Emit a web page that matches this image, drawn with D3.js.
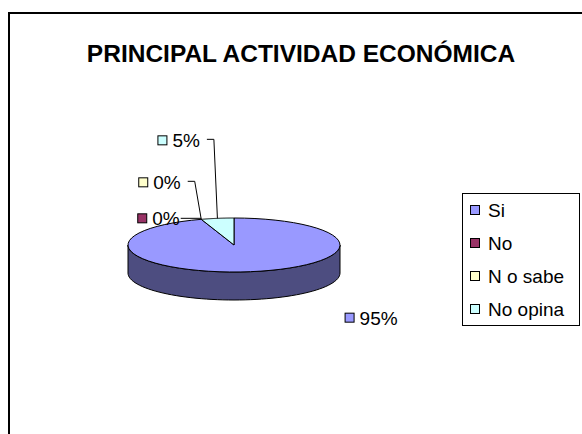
<!DOCTYPE html>
<head>
  <meta charset="utf-8">
  <script src="https://d3js.org/d3.v7.min.js"></script>
  <style>
body { margin:0; background:#fff; }
text { font-family: Arial, "Liberation Sans", sans-serif; fill:#000; }
.title { font-size: 24.5px; font-weight: bold; }
.lbl { font-size: 19px; }
.leg { font-size: 19px; }
.edge { stroke:#000; stroke-width:1; }
  </style>
</head>
<body>
<script>
const categories = ['Si', 'No', 'N o sabe', 'No opina']
const values = [95, 0, 0, 5]
const colors = ['#9999ff', '#993366', '#ffffcc', '#ccffff']
const sideColors = ['#4d4d80', '#4d1a33', '#808066', '#668080']

// where each data label's key box sits relative to its rim point (layout only)
const labelOffsets = [[94, 46], [-64, -1], [-63, -37], [-60, -78]]

const W = 582, H = 434
const svg = d3.select('body').append('svg').attr('width', W).attr('height', H)

// chart frame (only top/left edges fall inside the picture)
svg.append('path').attr('d', `M9,${H}V13H${W}`)
  .attr('fill', 'none').attr('stroke', '#000').attr('stroke-width', 2)

svg.append('text').attr('class', 'title')
  .attr('x', 301).attr('y', 62).attr('text-anchor', 'middle')
  .text('PRINCIPAL ACTIVIDAD ECONÓMICA')

const cx = 234, cy = 245, rx = 106, ry = 27, depth = 28

const pie = d3.pie().sort(null).value(d => d)
const arcs = pie(values)
const pct = d3.format('.0%')
const total = d3.sum(values)

const pt = (a, dy = 0) => [cx + rx * Math.sin(a), cy - ry * Math.cos(a) + dy]

function rimPath(a0, a1, dy = 0, n = 60) {
  const pts = d3.range(n + 1).map(i => pt(a0 + (a1 - a0) * i / n, dy))
  return pts.map((p, i) => (i ? 'L' : 'M') + p[0].toFixed(2) + ',' + p[1].toFixed(2)).join('')
}

const g = svg.append('g')

// side walls, front half only (angles PI/2 .. 3PI/2)
arcs.forEach((d, i) => {
  const a0 = Math.max(d.startAngle, Math.PI / 2)
  const a1 = Math.min(d.endAngle, 3 * Math.PI / 2)
  if (a1 <= a0) return
  const bottom = rimPath(a1, a0, depth).replace(/^M/, 'L')
  g.append('path')
    .attr('d', rimPath(a0, a1) + bottom + 'Z')
    .attr('fill', sideColors[i]).attr('class', 'edge')
})

// top face
arcs.forEach((d, i) => {
  if (d.endAngle - d.startAngle <= 0) return
  g.append('path')
    .attr('d', `M${cx},${cy}` + rimPath(d.startAngle, d.endAngle).replace(/^M/, 'L') + 'Z')
    .attr('fill', colors[i]).attr('class', 'edge')
})

// data labels + leader lines
const lab = svg.append('g')
arcs.forEach((d, i) => {
  const mid = (d.startAngle + d.endAngle) / 2
  const rim = pt(mid)
  const [ox, oy] = labelOffsets[i]
  const lx = rim[0] + ox, ly = rim[1] + oy
  lab.append('rect').attr('x', lx + 0.5).attr('y', ly - 4.5).attr('width', 9).attr('height', 9)
    .attr('fill', colors[i]).attr('stroke', '#000')
  const t = lab.append('text').attr('class', 'lbl').attr('x', lx + 15).attr('y', ly + 7)
    .text(pct(d.data / total))
  if (i === 0) return
  const end = lx + 15 + t.node().getComputedTextLength()
  const path = i === 1
    ? `M${end + 1},${rim[1] - 1}H${rim[0]}`
    : `M${end + 7},${ly - 1}H${end + 14}L${rim[0]},${rim[1]}`
  lab.append('path').attr('d', path).attr('fill', 'none').attr('stroke', '#000')
})

// legend
const lg = svg.append('g').attr('transform', 'translate(462,193)')
lg.append('rect').attr('x', 0.5).attr('y', 0.5).attr('width', 117).attr('height', 132)
  .attr('fill', '#fff').attr('stroke', '#000')
const ly = d3.scalePoint().domain(categories).range([17, 116])
categories.forEach((c, i) => {
  const y = ly(c)
  lg.append('rect').attr('x', 8.5).attr('y', y - 4.5).attr('width', 9).attr('height', 9)
    .attr('fill', colors[i]).attr('stroke', '#000')
  lg.append('text').attr('class', 'leg').attr('x', 26).attr('y', y + 7).text(c)
})
</script>
</body>
